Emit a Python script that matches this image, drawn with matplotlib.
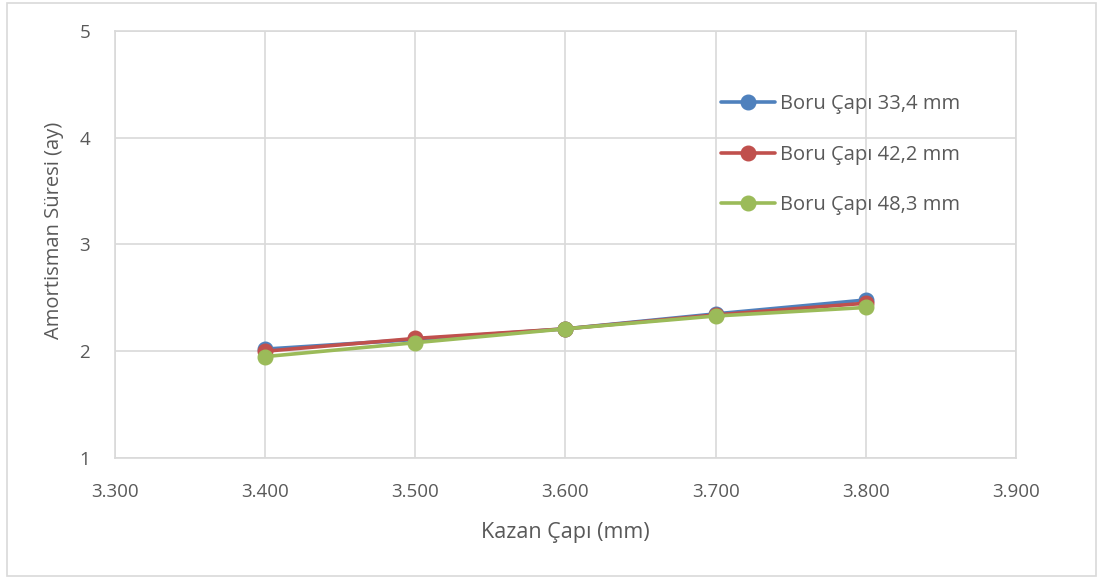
import matplotlib
matplotlib.use("Agg")
import matplotlib.pyplot as plt
from matplotlib.patches import Rectangle

kazan_capi = [3400, 3500, 3600, 3700, 3800]
boru_334 = [2.02, 2.11, 2.21, 2.35, 2.48]
boru_422 = [2.00, 2.12, 2.21, 2.34, 2.45]
boru_483 = [1.95, 2.08, 2.21, 2.33, 2.41]
series_labels = ["Boru Çapı 33,4 mm", "Boru Çapı 42,2 mm", "Boru Çapı 48,3 mm"]
x_ticks = [3300, 3400, 3500, 3600, 3700, 3800, 3900]
x_tick_labels = ["3.300", "3.400", "3.500", "3.600", "3.700", "3.800", "3.900"]
y_ticks = [1, 2, 3, 4, 5]

plt.rcParams["font.family"] = ["Open Sans", "DejaVu Sans"]
text_color = "#595959"
grid_color = "#d9d9d9"

fig = plt.figure(figsize=(11.03, 5.79), dpi=100)
fig.patches.append(Rectangle((0.0065, 0.005), 0.987, 0.99, transform=fig.transFigure,
                             fill=False, edgecolor="#d9d9d9", linewidth=1.2))
ax = fig.add_axes([0.1043, 0.209, 0.8167, 0.7375])

colors = ["#4F81BD", "#C0504D", "#9BBB59"]
for ys, c, lab in zip([boru_334, boru_422, boru_483], colors, series_labels):
    ax.plot(kazan_capi, ys, color=c, linewidth=2.6, marker="o", markersize=10.5,
            label=lab, solid_capstyle="round")

ax.set_xlim(3300, 3900)
ax.set_ylim(1, 5)
ax.set_xticks(x_ticks)
ax.set_xticklabels(x_tick_labels)
ax.set_yticks(y_ticks)
ax.grid(True, color=grid_color, linewidth=1.2)
ax.set_axisbelow(True)
for s in ax.spines.values():
    s.set_color(grid_color)
    s.set_linewidth(1.2)
ax.tick_params(length=0, labelsize=13.5, colors=text_color)
ax.tick_params(axis="y", pad=18)
ax.tick_params(axis="x", pad=18)

ax.set_xlabel("Kazan Çapı (mm)", fontsize=15.5, color=text_color, labelpad=15)
ax.set_ylabel("Amortisman Süresi (ay)", fontsize=14.5, color=text_color)
ax.yaxis.set_label_coords(-0.057, 0.532)

leg = ax.legend(loc="upper left", bbox_to_anchor=(0.653, 0.895), frameon=False,
                fontsize=14.5, labelspacing=1.52, handlelength=2.65, handletextpad=0.25,
                labelcolor=text_color)

fig.savefig("out.png", dpi=100)
